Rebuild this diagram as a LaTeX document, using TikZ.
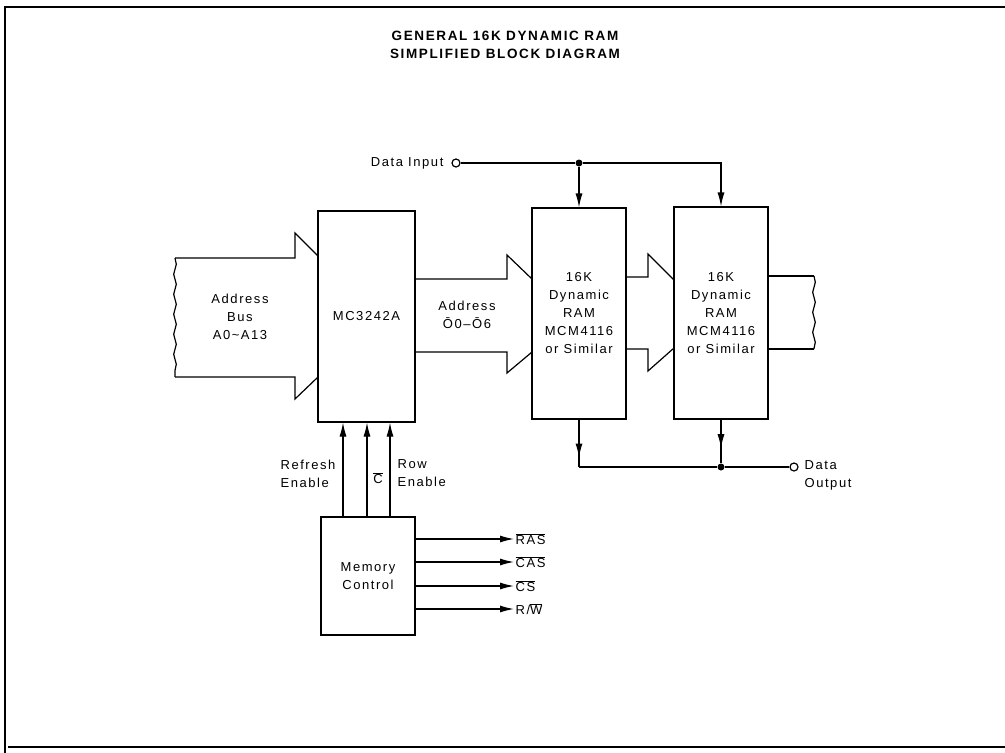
\documentclass[tikz,border=0pt]{standalone}
\usepackage{fontspec}
\setmainfont{Liberation Sans}[LetterSpace=12]
\usetikzlibrary{arrows.meta,decorations.markings,decorations.pathmorphing}

\tikzset{
  blk/.style={draw, inner sep=0pt, align=center},
  lbl/.style={inner sep=1pt, align=left, anchor=west},
  tip/.style={-{Latex[length=14pt,width=7pt]}},
  midtip/.style={postaction={decorate}, decoration={markings, mark=at position #1 with {\arrow{Latex[length=14pt,width=7pt]}}}},
  port/.style={draw, circle, fill=white, inner sep=0pt, minimum size=8pt},
  dot/.style={fill, circle, inner sep=0pt, minimum size=7pt},
  wavy/.style={decorate, decoration={snake, amplitude=1.3pt, segment length=20pt}}
}

\begin{document}
\begin{tikzpicture}[x=1pt, y=-1pt, line width=1.2pt, font=\fontsize{13}{18}\selectfont]
\useasboundingbox (0,0) rectangle (1005,753);
% frame
\draw (1010,7) -- (5,7) -- (5,760);
\draw (8,747) -- (1010,747);

\node[font=\bfseries\fontsize{13.5}{18}\selectfont, align=center] (title) at (505,45) {GENERAL 16K DYNAMIC RAM\\SIMPLIFIED BLOCK DIAGRAM};

% blocks
\node[blk, minimum width=97, minimum height=211] (mc) at (366.5,316.5) {MC3242A};
\node[blk, minimum width=94, minimum height=211] (ram1) at (579,313.5) {16K\\Dynamic\\RAM\\MCM4116\\or Similar};
\node[blk, minimum width=94, minimum height=212] (ram2) at (721,313) {16K\\Dynamic\\RAM\\MCM4116\\or Similar};
\node[blk, minimum width=94, minimum height=118] (memctl) at (368,576) {Memory\\Control};

% bus arrows
\node[align=center] (abus) at (240,317) {Address\\Bus\\A0\textasciitilde A13};
\draw[wavy] (175,258) -- (175,377);
\draw (175,258) -- (295,258) -- (295,233) -- (318,256);
\draw (175,377) -- (295,377) -- (295,399) -- (318,377);

\node[align=center] (aout) at (467,315) {Address\\Ō0–Ō6};
\draw (415,279) -- (507,279) -- (507,255) -- (532,279);
\draw (415,352) -- (507,352) -- (507,373) -- (532,352);

\draw (626,277) -- (648,277) -- (648,254) -- (674,280);
\draw (626,349) -- (648,349) -- (648,371) -- (674,348);

\draw (768,276) -- (814,276);
\draw (768,349) -- (814,349);
\draw[wavy] (814,276) -- (814,349);

% data in
\node[inner sep=1pt, anchor=east] (din) at (445,163) {Data Input};
\node[port] (dinp) at (456,163) {};
\node[dot] (j1) at (ram1.north |- dinp) {};
\draw (dinp) -- (j1);
\draw[tip] (j1) -- (ram1.north);
\draw[tip] (j1) -- (j1 -| ram2.north) -- (ram2.north);

% data out
\node[dot] (j2) at (721,467) {};
\node[port] (doutp) at (794,467) {};
\node[lbl] (dout) at (803,475.5) {Data\\Output};
\draw[midtip=0.8] (ram1.south) -- (ram1.south |- j2);
\draw (ram1.south |- j2) -- (j2) -- (doutp);
\draw[midtip=0.66] (ram2.south) -- (j2);

% control lines
\draw[tip] ([xshift=-25]memctl.north) -- ([xshift=-25]memctl.north |- mc.south);
\draw[tip] ([xshift=-1]memctl.north) -- ([xshift=-1]memctl.north |- mc.south);
\draw[tip] ([xshift=22]memctl.north) -- ([xshift=22]memctl.north |- mc.south);
\node[lbl] (refen) at (279,473.5) {Refresh\\Enable};
\node (cbar) at (378,478) {$\overline{\mbox{C}}$};
\node[lbl] (rowen) at (396,473.5) {Row\\Enable};

% memory control outputs
\node[lbl] (ras) at (514,539) {$\overline{\mbox{RAS}}$};
\node[lbl] (cas) at (514,562) {$\overline{\mbox{CAS}}$};
\node[lbl] (cs) at (514,586) {$\overline{\mbox{CS}}$};
\node[lbl] (rw) at (514,609) {R/$\overline{\mbox{W}}$};
\draw[tip] (memctl.east |- ras) -- (ras.west);
\draw[tip] (memctl.east |- cas) -- (cas.west);
\draw[tip] (memctl.east |- cs) -- (cs.west);
\draw[tip] (memctl.east |- rw) -- (rw.west);

\end{tikzpicture}
\end{document}
